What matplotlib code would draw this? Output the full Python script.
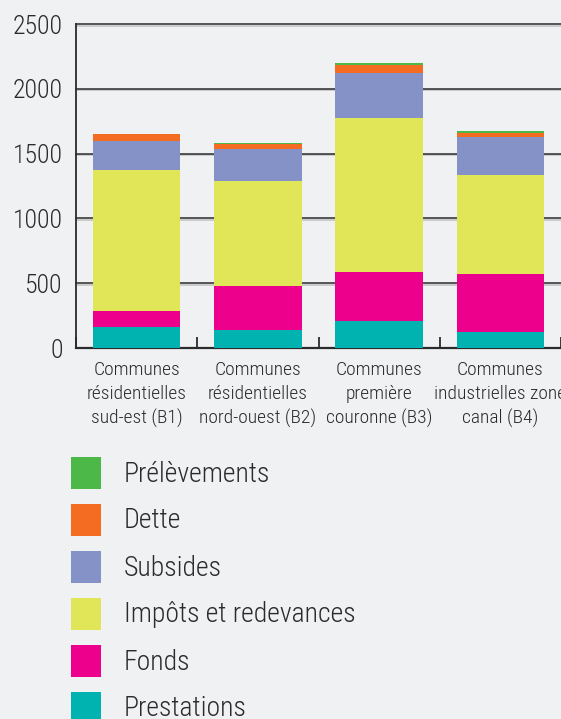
import matplotlib
matplotlib.use("Agg")
import matplotlib.pyplot as plt
from matplotlib.patches import Rectangle
from matplotlib import font_manager
import matplotlib.transforms as mtransforms

# Pick a narrow sans-serif if one is installed
available = {f.name for f in font_manager.fontManager.ttflist}
family = "DejaVu Sans"
for cand in ["Liberation Sans Narrow", "Roboto Condensed", "DejaVu Sans Condensed", "Liberation Sans"]:
    if cand in available:
        family = cand
        break
plt.rcParams["font.family"] = [family, "DejaVu Sans"]
plt.rcParams["font.weight"] = "light"

categories = [
    "Communes\nrésidentielles\nsud-est (B1)",
    "Communes\nrésidentielles\nnord-ouest (B2)",
    "Communes\npremière\ncouronne (B3)",
    "Communes\nindustrielles zone\ncanal (B4)",
]

# Stacked from bottom to top
prestations = [160, 140, 205, 125]
fonds = [125, 340, 380, 445]
impots = [1090, 810, 1190, 765]
subsides = [225, 245, 345, 290]
dette = [55, 42, 62, 36]
prelevements = [0, 5, 18, 15]

series_names = ["Prestations", "Fonds", "Impôts et redevances", "Subsides", "Dette", "Prélèvements"]
series_values = [prestations, fonds, impots, subsides, dette, prelevements]
series_colors = ["#00b2b0", "#ec008c", "#e1e558", "#8492c8", "#f36c21", "#4cb848"]

yticks = [0, 500, 1000, 1500, 2000, 2500]

bg = "#f0f1f3"
ink = "#2b2b2b"

W, H = 561, 719
fig = plt.figure(figsize=(W / 100, H / 100), dpi=100, facecolor=bg)
ax = fig.add_axes([76 / W, 1 - 348 / H, 1 - 76 / W, 324 / H])
ax.set_facecolor(bg)

x = list(range(len(categories)))
bottom = [0] * len(categories)
for name, vals, col in zip(series_names, series_values, series_colors):
    ax.bar(x, vals, width=0.72, bottom=bottom, color=col, zorder=3, linewidth=0)
    bottom = [b + v for b, v in zip(bottom, vals)]

ax.set_ylim(0, 2500)
ax.set_xlim(-0.5, -0.5 + (W - 76) / 123)

# Grid lines with a soft shadow just below each
shadow = ax.get_yaxis_transform() + mtransforms.ScaledTranslation(0, -1.2 / 72, fig.dpi_scale_trans)
for yv in yticks[1:]:
    ax.plot([0, 1], [yv, yv], transform=shadow, color="#c4c4c4", lw=1.2,
            zorder=1, clip_on=False)
    ax.plot([0, 1], [yv, yv], transform=ax.get_yaxis_transform(),
            color=ink, lw=1.1, zorder=2, clip_on=False)

ax.set_yticks(yticks)
ax.set_yticklabels([str(v) for v in yticks], fontsize=18.5, color=ink)
ax.tick_params(axis="y", length=0, pad=9.5)

ax.set_xticks([i - 0.5 for i in range(len(categories) + 1)])
ax.set_xticklabels([])
ax.tick_params(axis="x", direction="in", length=8, width=1.3, color=ink)

for i, lab in enumerate(categories):
    ax.text(i, -0.04, lab, transform=ax.get_xaxis_transform(),
            ha="center", va="top", fontsize=14, color=ink, linespacing=1.42)

for s in ["top", "right"]:
    ax.spines[s].set_visible(False)
ax.spines["left"].set_color(ink)
ax.spines["left"].set_linewidth(1.3)
ax.spines["bottom"].set_color(ink)
ax.spines["bottom"].set_linewidth(1.6)

# Legend, top entry first
for k, (name, col) in enumerate(zip(series_names[::-1], series_colors[::-1])):
    top = 457 + 47 * k
    fig.patches.append(Rectangle((71 / W, 1 - (top + 32) / H), 30 / W, 32 / H,
                                 transform=fig.transFigure, facecolor=col,
                                 edgecolor="none"))
    fig.text(124 / W, 1 - (top + 17) / H, name, fontsize=20, color=ink,
             va="center", ha="left")

fig.savefig("out.png", dpi=100, facecolor=bg)
